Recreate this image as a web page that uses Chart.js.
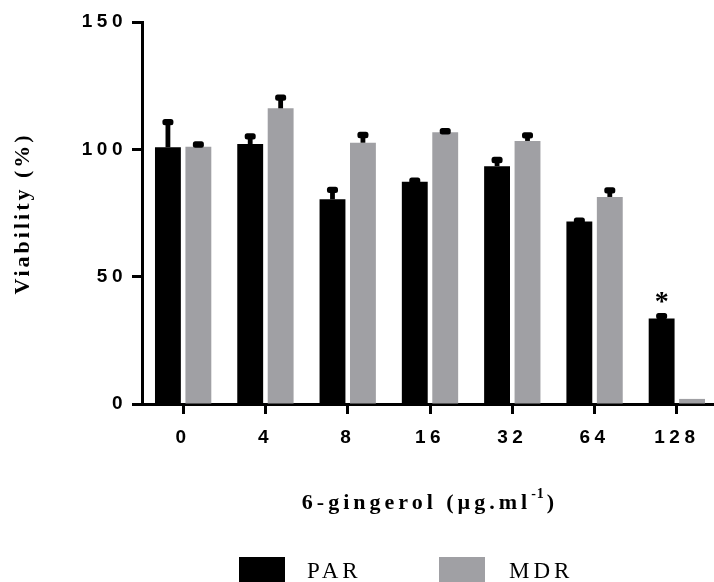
<!DOCTYPE html>
<html>
<head>
<meta charset="utf-8">
<script src="https://cdn.jsdelivr.net/npm/chart.js@4"></script>
<style>
  html, body { margin: 0; padding: 0; background: #fff; overflow: hidden; width: 714px; height: 582px; }
  #wrap { position: absolute; left: 0; top: 0; }
</style>
</head>
<body>
<div id="wrap"><canvas id="c" width="718" height="582"></canvas></div>
<script>
// 6-gingerol concentrations (µg/ml)
const doses = ['0', '4', '8', '16', '32', '64', '128'];

// Cell viability (%) – parental line
const parMean = [100.8, 102.1, 80.4, 87.3, 93.4, 71.7, 33.6];
const parErr  = [9.9, 3.0, 3.7, 0.4, 2.4, 0.3, 0.9];
const parSig  = ['', '', '', '', '', '', '*'];

// Cell viability (%) – multidrug-resistant line
const mdrMean = [101.0, 116.1, 102.6, 106.7, 103.3, 81.3, 2.0];
const mdrErr  = [0.9, 4.2, 3.0, 0.4, 2.2, 2.6, 0];
const mdrSig  = ['', '', '', '', '', '', ''];

// Y axis range
const yMin = 0, yMax = 150, yStep = 50;

const tickFont = { family: '"Liberation Sans", Arial, sans-serif', size: 19, weight: 'bold' };
const serif = '"Liberation Serif", "Times New Roman", serif';

// Upward error bars with heavy caps, plus significance marks
const errorBars = {
  id: 'errorBars',
  afterDatasetsDraw(chart) {
    const ctx = chart.ctx, ys = chart.scales.y;
    chart.data.datasets.forEach((ds, i) => {
      const meta = chart.getDatasetMeta(i);
      meta.data.forEach((bar, j) => {
        const v = ds.data[j], e = ds.errors[j];
        const top = ys.getPixelForValue(v + e);
        ctx.save();
        ctx.fillStyle = '#000';
        if (e > 0) {
          ctx.fillRect(bar.x - 2.4, top, 4.8, bar.y - top);
          ctx.beginPath();
          ctx.roundRect(bar.x - 5.5, top - 3.2, 11, 6.4, 2.5);
          ctx.fill();
        }
        const mark = ds.marks[j];
        if (mark) {
          ctx.font = 'bold 28px ' + serif;
          ctx.letterSpacing = '0px';
          ctx.textAlign = 'center';
          ctx.textBaseline = 'alphabetic';
          const m = ctx.measureText(mark);
          const cy = top - 3 - 16;
          ctx.fillText(mark, bar.x, cy + (m.actualBoundingBoxAscent - m.actualBoundingBoxDescent) / 2);
        }
        ctx.restore();
      });
    });
  }
};

// Tick label spacing for the axes
const spacing = {
  id: 'spacing',
  beforeDraw(chart) { chart.ctx.letterSpacing = '4.5px'; },
  afterDraw(chart) { chart.ctx.letterSpacing = '0px'; }
};

// Axis titles and legend
const annotations = {
  id: 'annotations',
  afterDraw(chart) {
    const ctx = chart.ctx, area = chart.chartArea;
    ctx.save();
    ctx.fillStyle = '#000';
    ctx.textAlign = 'left';
    ctx.textBaseline = 'alphabetic';

    // Y title, rotated
    ctx.font = 'bold 22px ' + serif;
    ctx.letterSpacing = '3px';
    const yTitle = 'Viability (%)';
    const yw = ctx.measureText(yTitle).width - 3;
    ctx.save();
    ctx.translate(29, (area.top + area.bottom) / 2 + 2);
    ctx.rotate(-Math.PI / 2);
    ctx.fillText(yTitle, -yw / 2, 0);
    ctx.restore();

    // X title with superscript
    const main = '6-gingerol (µg.ml', sup = '-1', close = ')';
    ctx.font = 'bold 22px ' + serif;
    ctx.letterSpacing = '4px';
    const w1 = ctx.measureText(main).width;
    const w3 = ctx.measureText(close).width - 4;
    ctx.font = 'bold 14px ' + serif;
    ctx.letterSpacing = '1px';
    const w2 = ctx.measureText(sup).width + 2;
    const cx = (area.left + area.right) / 2 - 2;
    let x = cx - (w1 + w2 + w3) / 2;
    const base = 508.5;
    ctx.font = 'bold 22px ' + serif;
    ctx.letterSpacing = '4px';
    ctx.fillText(main, x, base);
    x += w1;
    ctx.font = 'bold 14px ' + serif;
    ctx.letterSpacing = '1px';
    ctx.fillText(sup, x, base - 11);
    x += w2;
    ctx.font = 'bold 22px ' + serif;
    ctx.letterSpacing = '4px';
    ctx.fillText(close, x, base);

    // Legend
    const items = [{ box: 239, text: 307 }, { box: 439, text: 509 }];
    ctx.font = '23px ' + serif;
    ctx.letterSpacing = '4px';
    chart.data.datasets.forEach((ds, i) => {
      const it = items[i];
      ctx.fillStyle = ds.backgroundColor;
      ctx.fillRect(it.box, 557, 46, 30);
      ctx.fillStyle = '#000';
      ctx.fillText(ds.label, it.text, 577.5);
    });
    ctx.restore();
  }
};

const axisGrid = {
  drawOnChartArea: false,
  drawTicks: true,
  tickLength: 10,
  tickWidth: 3,
  tickColor: '#000'
};

new Chart(document.getElementById('c'), {
  type: 'bar',
  data: {
    labels: doses,
    datasets: [
      { label: 'PAR', data: parMean, errors: parErr, marks: parSig, backgroundColor: '#000000',
        borderWidth: 0, categoryPercentage: 0.74, barPercentage: 0.85 },
      { label: 'MDR', data: mdrMean, errors: mdrErr, marks: mdrSig, backgroundColor: '#a0a0a4',
        borderWidth: 0, categoryPercentage: 0.74, barPercentage: 0.85 }
    ]
  },
  options: {
    responsive: false,
    animation: false,
    events: [],
    layout: { padding: { top: 22, right: 0, bottom: 0, left: 0 } },
    plugins: { legend: { display: false }, tooltip: { enabled: false } },
    scales: {
      x: {
        offset: true,
        grid: Object.assign({ offset: false }, axisGrid),
        border: { color: '#000', width: 3 },
        ticks: { color: '#000', font: tickFont, padding: 12.5, maxRotation: 0, autoSkip: false },
        afterFit(s) { s.height = 178; }
      },
      y: {
        min: yMin, max: yMax,
        grid: axisGrid,
        border: { color: '#000', width: 3 },
        ticks: { stepSize: yStep, color: '#000', font: tickFont, padding: 5 },
        afterFit(s) { s.width = 142; }
      }
    }
  },
  plugins: [spacing, errorBars, annotations]
});
</script>
</body>
</html>
